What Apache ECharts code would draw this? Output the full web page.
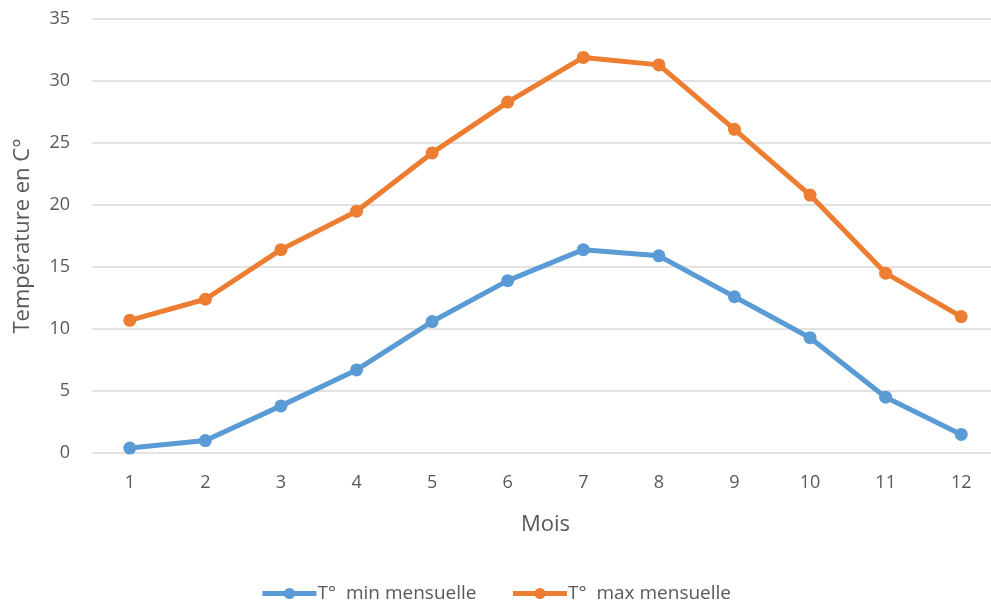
<!DOCTYPE html>
<html>
<head>
<meta charset="utf-8">
<script src="https://cdn.jsdelivr.net/npm/echarts@6/dist/echarts.min.js"></script>
<style>
  html, body { margin: 0; padding: 0; background: #fff; }
  #chart { width: 991px; height: 608px; }
</style>
</head>
<body>
<div id="chart"></div>
<script>
// Monthly temperatures (°C)
const months = ['1', '2', '3', '4', '5', '6', '7', '8', '9', '10', '11', '12'];
const tMin = [0.4, 1.0, 3.8, 6.7, 10.6, 13.9, 16.4, 15.9, 12.6, 9.3, 4.5, 1.5];
const tMax = [10.7, 12.4, 16.4, 19.5, 24.2, 28.3, 31.9, 31.3, 26.1, 20.8, 14.5, 11.0];
const seriesNames = ['T°  min mensuelle', 'T°  max mensuelle'];

const font = '"Open Sans", "Liberation Sans", sans-serif';
const textColor = '#595959';

const chart = echarts.init(document.getElementById('chart'), null, { renderer: 'canvas' });

function lineSeries(name, data, color) {
  return {
    name: name,
    type: 'line',
    data: data,
    symbol: 'circle',
    symbolSize: 13,
    lineStyle: { width: 5, color: color },
    itemStyle: { color: color },
    emphasis: { disabled: true },
    animation: false
  };
}

chart.setOption({
  backgroundColor: '#fff',
  grid: {
    left: 92, width: 907, top: 19, height: 434,
    containLabel: false,
    outerBoundsMode: 'none'
  },
  legend: {
    bottom: 0,
    left: 'center',
    itemWidth: 54,
    itemHeight: 14,
    itemGap: 34,
    lineStyle: { width: 5 },
    textStyle: { fontFamily: font, fontSize: 19, color: textColor, padding: [0, 0, 0, -4] },
    data: seriesNames
  },
  xAxis: {
    type: 'category',
    data: months,
    boundaryGap: true,
    name: 'Mois',
    nameLocation: 'middle',
    nameGap: 61,
    nameTextStyle: { fontFamily: font, fontSize: 22, color: textColor },
    axisLine: { show: false },
    axisTick: { show: false },
    axisLabel: { fontFamily: font, fontSize: 18, color: textColor, margin: 21 },
    splitLine: { show: false }
  },
  yAxis: {
    type: 'value',
    min: 0,
    max: 35,
    interval: 5,
    name: 'Température en C°',
    nameLocation: 'middle',
    nameGap: 58,
    nameTextStyle: { fontFamily: font, fontSize: 22, color: textColor },
    axisLine: { show: false },
    axisTick: { show: false },
    axisLabel: { fontFamily: font, fontSize: 18, color: textColor, margin: 22 },
    splitLine: { lineStyle: { color: '#d9d9d9', width: 1.5 } }
  },
  series: [
    lineSeries(seriesNames[0], tMin, '#5B9BD5'),
    lineSeries(seriesNames[1], tMax, '#ED7D31')
  ]
});
</script>
</body>
</html>
